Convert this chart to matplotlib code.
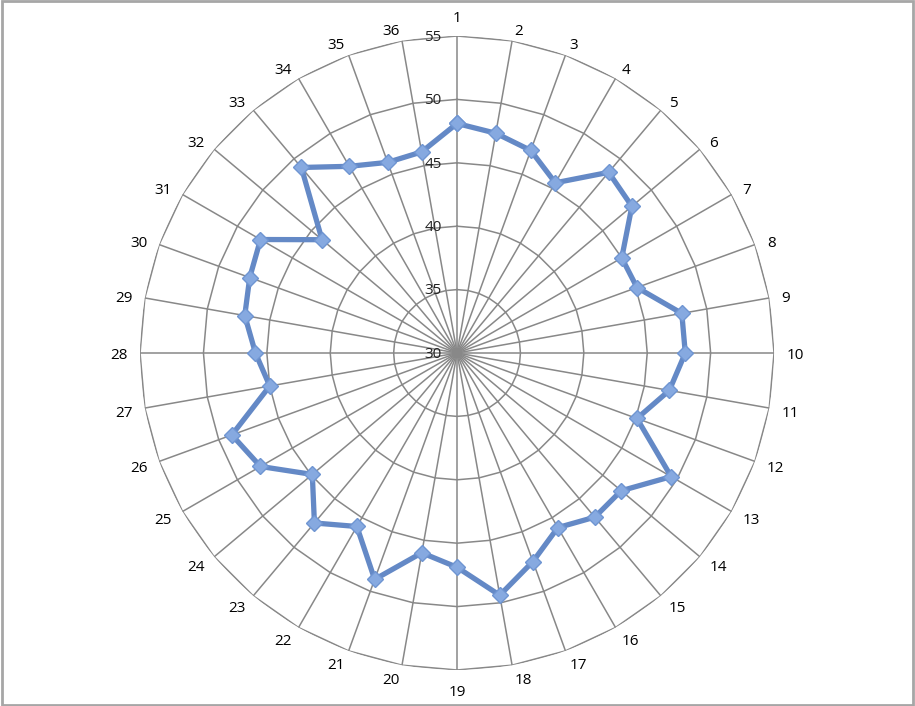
import numpy as np
import matplotlib.pyplot as plt
from matplotlib.patches import Rectangle

categories = [str(i) for i in range(1, 37)]
values = [48.1, 47.6, 47.0, 45.5, 48.6, 48.0, 45.0, 45.1, 48.0, 48.0,
          47.0, 45.1, 49.5, 46.9, 46.9, 45.9, 47.5, 49.4, 46.9, 46.0,
          49.0, 45.8, 47.5, 44.9, 47.9, 48.9, 45.0, 45.9, 47.0, 47.4,
          47.9, 43.9, 49.1, 47.0, 46.0, 46.1]
rings = [30, 35, 40, 45, 50, 55]

plt.rcParams['font.family'] = ['Open Sans', 'DejaVu Sans']

fig = plt.figure(figsize=(9.15, 7.06), dpi=100)
fig.patches.append(Rectangle((0.002, 0.002), 0.996, 0.996, transform=fig.transFigure,
                             fill=False, edgecolor='#a6a6a6', linewidth=2))

ax = fig.add_axes([0.153, 0.051, 0.693, 0.898], projection='polar')
ax.set_theta_zero_location('N')
ax.set_theta_direction(-1)
ax.set_ylim(30, 55)
ax.grid(False)
ax.spines['polar'].set_visible(False)
ax.set_xticks([])
ax.set_yticks([])
ax.patch.set_alpha(0)

n = len(categories)
theta = np.linspace(0, 2 * np.pi, n, endpoint=False)
theta_c = np.append(theta, theta[0])

grid_color = '#888888'
# ring polygons
for r in rings[1:]:
    ax.plot(theta_c, [r] * (n + 1), color=grid_color, lw=1.1, zorder=1)
# spokes
for t in theta:
    ax.plot([t, t], [30, 55], color=grid_color, lw=1.1, zorder=1)

# ring value labels
for r in rings:
    ax.annotate(str(r), xy=(0, r), xytext=(-11, -1), textcoords='offset points',
                ha='right', va='center', fontsize=11, color='#222222')

# category labels, anchored like Excel does
for t, lab in zip(theta, categories):
    s, c = np.sin(t), np.cos(t)
    if abs(s) < 0.05:
        ha, va = 'center', ('bottom' if c > 0 else 'top')
    else:
        ha, va = ('left' if s > 0 else 'right'), 'center'
    ax.annotate(lab, xy=(t, 56.0), xytext=(0, -2), textcoords='offset points',
                ha=ha, va=va, fontsize=11, color='black', annotation_clip=False)

vals_c = values + values[:1]
ax.plot(theta_c, vals_c, color='#6489c6', lw=3.8, zorder=3,
        marker='D', markersize=8, markerfacecolor='#86a9e0',
        markeredgecolor='#6f95d2', markeredgewidth=1)

fig.savefig('out.png', dpi=100)
